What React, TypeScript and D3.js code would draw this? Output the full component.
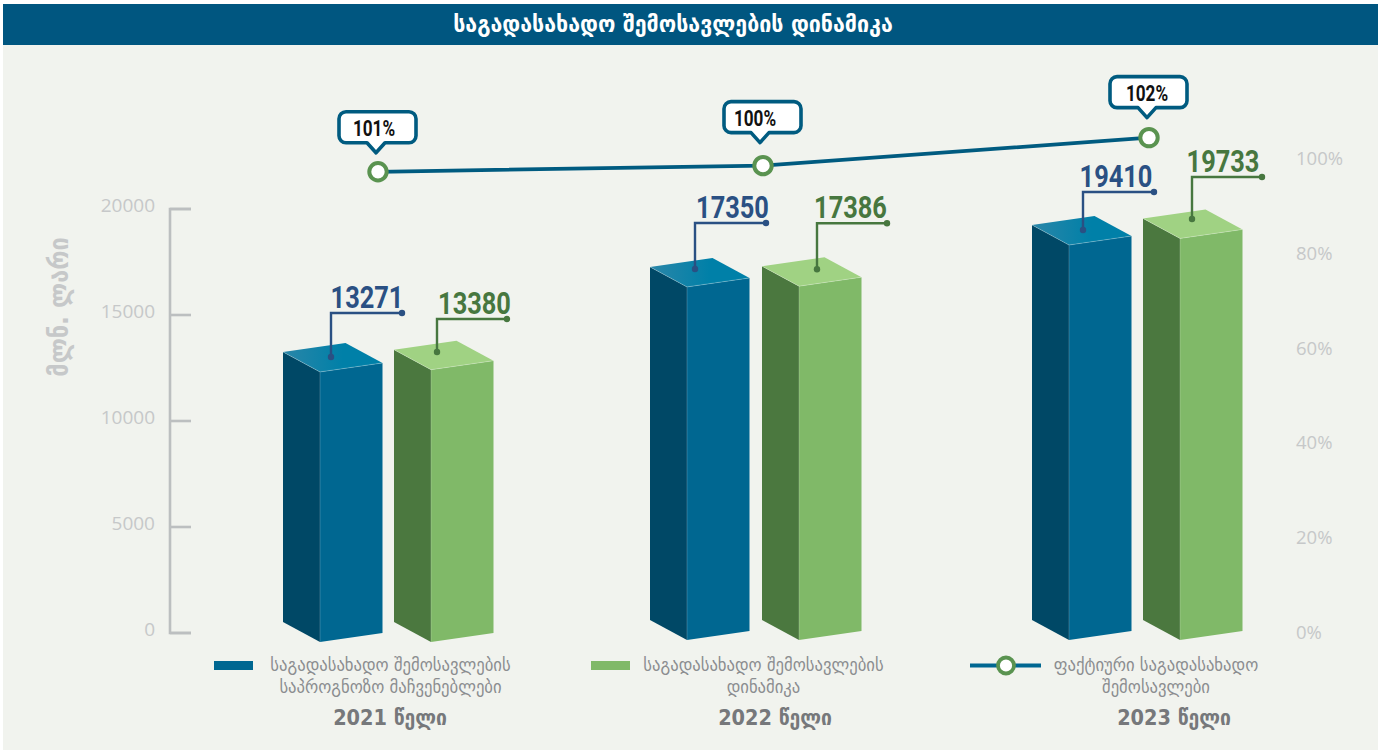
import React, { useMemo } from 'react'
import * as d3 from 'd3'

const years = ['2021', '2022', '2023']
const forecast = [13271, 17350, 19410]
const actual = [13380, 17386, 19733]
const ratioLabels = ['101%', '100%', '102%']
// where the line sits on the right axis (it doesn't follow the printed labels)
const ratioPlotted = [97.3, 98.6, 104.5]
const leftTicks = [0, 5000, 10000, 15000, 20000]
const rightTicks = [0, 20, 40, 60, 80, 100]

const title = 'საგადასახადო შემოსავლების დინამიკა'
const unitLabel = 'მლნ. ლარი'
const yearSuffix = 'წელი'
const legendForecast = ['საგადასახადო შემოსავლების', 'საპროგნოზო მაჩვენებლები']
const legendActual = ['საგადასახადო შემოსავლების', 'დინამიკა']
const legendRatio = ['ფაქტიური საგადასახადო', 'შემოსავლები']

const width = 1378
const height = 751
const geo = "'DejaVu Sans Condensed', 'DejaVu Sans', sans-serif"
const num = "Roboto, 'DejaVu Sans Condensed', sans-serif"
const tick = "'Open Sans', sans-serif"

const blue = { left: '#004866', front: '#006791', top: '#0080a8', topDark: '#2a86a8', ink: '#2a5083' }
const green = { left: '#4b783f', front: '#80b968', top: '#a0d283', topDark: '#a0d283', ink: '#47773f' }

// bars are drawn on their own scale, the 3d picture is a bit shorter than the axis
const barScale = d3.scaleLinear().domain([0, 20000]).range([0, 407])
const axisY = d3.scaleLinear().domain([0, 20000]).range([633, 209])
const pctY = d3.scaleLinear().domain([0, 100]).range([633, 159])
const blueX = d3.scaleOrdinal<string, number>().domain(years).range([283, 650, 1032])
const greenX = d3.scaleOrdinal<string, number>().domain(years).range([394, 762, 1143])
const floorY = d3.scaleOrdinal<string, number>().domain(years).range([633, 631, 631])
const lineX = d3.scaleOrdinal<string, number>().domain(years).range([378, 763, 1149])
const yearX = d3.scaleOrdinal<string, number>().domain(years).range([390, 775, 1174])

// hand placed leader lines: [dot x from bar, dot above top, elbow above top, label x from dot]
const blueLeaders = [
  [48, 6, 50, 36],
  [45, 9, 55, 37.5],
  [51, 6, 44, 33],
]
const greenLeaders = [
  [43, 8.7, 41.7, 37.5],
  [55, 8, 54, 33.5],
  [49, 10.4, 52.4, 31],
]
// speech bubbles: [top above point, tail x from point, label x from point]
const bubbles = [
  [60, -2, -4],
  [64, -3, -8],
  [61, -2, -2],
]

const poly = d3.line()

function Bar({ x, floor, value, c, id }: any) {
  const h = barScale(value)
  const leftW = 37
  const frontW = 62.5
  const skew = 9 // front face lean
  const drop = 20
  const top = floor - h
  const a: [number, number] = [x, top - 11]
  const b: [number, number] = [x + leftW, top + 9]
  const r: [number, number] = [x + leftW + frontW, top]
  const back: [number, number] = [x + frontW, top - 20]
  return (
    <g>
      <defs>
        <linearGradient id={id} x1="0" x2="1" y1="0" y2="0">
          <stop offset="0" stopColor={c.topDark} />
          <stop offset="0.6" stopColor={c.top} />
        </linearGradient>
      </defs>
      <path d={poly([a, b, [b[0], floor + skew], [a[0], floor + skew - drop]])! + 'Z'} fill={c.left} />
      <path d={poly([b, r, [r[0], floor], [b[0], floor + skew]])! + 'Z'} fill={c.front} />
      <path d={poly([a, back, r, b])! + 'Z'} fill={`url(#${id})`} />
      <path
        d={poly([a, b, r])!}
        fill="none"
        stroke="#fff"
        strokeOpacity={0.3}
        strokeWidth={0.8}
      />
      <line x1={b[0]} x2={b[0]} y1={b[1]} y2={floor + skew} stroke="#fff" strokeOpacity={0.25} strokeWidth={0.8} />
    </g>
  )
}

function Callout({ x, y, value, c, tx, top, end }: any) {
  return (
    <g>
      <path d={`M${x},${y} V${top} H${end}`} fill="none" stroke={c.ink} strokeWidth={2.4} />
      <circle cx={x} cy={y} r={3.2} fill={c.ink} />
      <circle cx={end} cy={top} r={3.2} fill={c.ink} />
      <text
        transform={`translate(${tx},${top - 5}) scale(0.82,1)`}
        textAnchor="middle"
        fontFamily={num}
        fontWeight={700}
        fontSize={31}
        fill={c.ink}
      >
        {value}
      </text>
    </g>
  )
}

export default function App() {
  const line = useMemo(
    () =>
      d3
        .line<number>()
        .x((_, i) => lineX(years[i]))
        .y((d) => pctY(d))(ratioPlotted),
    []
  )

  return (
    <svg
      width={width}
      height={height}
      viewBox={`0 0 ${width} ${height}`}
      style={{ position: 'absolute', left: 0, top: 0, display: 'block' }}
    >
      <rect width={width} height={height} fill="#fff" />
      <rect x={3} y={45} width={width - 3} height={705} fill="#f1f3ee" />
      <rect x={3} y={4} width={width - 3} height={41} fill="#005680" />
      <text x={673} y={32} textAnchor="middle" fontFamily={geo} fontWeight={700} fontSize={23.8} fill="#fff">
        {title}
      </text>

      {/* left axis */}
      <path d={`M191,${axisY(20000)} H170 V${axisY(0)} H191`} fill="none" stroke="#bcbfc0" strokeWidth={2.6} />
      {leftTicks.map((t) => (
        <g key={t}>
          <line x1={170} x2={191} y1={axisY(t)} y2={axisY(t)} stroke="#bcbfc0" strokeWidth={2.6} />
          <text x={155} y={axisY(t) + 3} textAnchor="end" fontFamily={tick} fontSize={19} fill="#c6c8c9">
            {t}
          </text>
        </g>
      ))}
      <text
        transform="translate(68,307) rotate(-90)"
        textAnchor="middle"
        fontFamily={geo}
        fontWeight={700}
        fontSize={26}
        fill="#c6c8c9"
      >
        {unitLabel}
      </text>

      {/* right axis */}
      {rightTicks.map((t) => (
        <text key={t} x={1296} y={pctY(t) + 6} fontFamily={tick} fontSize={18.5} fill="#c6c8c9">
          {t}%
        </text>
      ))}

      {/* bars */}
      {years.map((yr, i) => (
        <g key={yr}>
          <Bar id={`b${yr}`} x={blueX(yr)} floor={floorY(yr)} value={forecast[i]} c={blue} />
          <Bar id={`g${yr}`} x={greenX(yr)} floor={floorY(yr)} value={actual[i]} c={green} />
        </g>
      ))}

      {/* value callouts */}
      {years.map((yr, i) => {
        const by = floorY(yr) - barScale(forecast[i])
        const gy = floorY(yr) - barScale(actual[i])
        const [bdx, bdot, belbow, blabel] = blueLeaders[i]
        const [gdx, gdot, gelbow, glabel] = greenLeaders[i]
        const bx = blueX(yr) + bdx
        const gx = greenX(yr) + gdx
        return (
          <g key={yr}>
            <Callout x={bx} y={by - bdot} top={by - belbow} end={bx + 71} tx={bx + blabel} value={forecast[i]} c={blue} />
            <Callout x={gx} y={gy - gdot} top={gy - gelbow} end={gx + 70} tx={gx + glabel} value={actual[i]} c={green} />
          </g>
        )
      })}

      {/* ratio line */}
      <path d={line!} fill="none" stroke="#005b80" strokeWidth={3.8} />
      {years.map((yr, i) => {
        const x = lineX(yr)
        const y = pctY(ratioPlotted[i])
        const [rise, tail, labelDx] = bubbles[i]
        const bx = x - 39
        const by = y - rise
        const tipY = by + 41
        const tx = x + tail
        return (
          <g key={yr}>
            <path
              d={`M${bx + 7},${by} H${bx + 70} a7,7 0 0 1 7,7 V${by + 24} a7,7 0 0 1 -7,7 H${tx + 9} L${tx},${tipY} L${tx - 9},${by + 31} H${bx + 7} a7,7 0 0 1 -7,-7 V${by + 7} a7,7 0 0 1 7,-7 Z`}
              fill="#fff"
              stroke="#005b80"
              strokeWidth={3.6}
              strokeLinejoin="round"
            />
            <text
              transform={`translate(${x + labelDx},${by + 24}) scale(0.78,1)`}
              textAnchor="middle"
              fontFamily={num}
              fontWeight={700}
              fontSize={22}
              fill="#111"
            >
              {ratioLabels[i]}
            </text>
            <circle cx={x} cy={y} r={8.7} fill="#fff" stroke="#5a9350" strokeWidth={4} />
          </g>
        )
      })}

      {/* legend */}
      <rect x={214} y={661} width={39} height={9} fill="#006791" />
      <rect x={591} y={661} width={39} height={9} fill="#80b968" />
      <line x1={970} x2={1041} y1={665.5} y2={665.5} stroke="#006791" strokeWidth={3.8} />
      <circle cx={1006} cy={665.5} r={8} fill="#fff" stroke="#5a9350" strokeWidth={3.8} />
      {[
        { lines: legendForecast, x: 390.5 },
        { lines: legendActual, x: 763.5 },
        { lines: legendRatio, x: 1156 },
      ].map((l) =>
        l.lines.map((s, j) => (
          <text key={s + l.x} x={l.x} y={671 + j * 22} textAnchor="middle" fontFamily={geo} fontSize={18.5} fill="#8b8d90">
            {s}
          </text>
        ))
      )}
      {years.map((yr) => (
        <text key={yr} x={yearX(yr)} y={725} textAnchor="middle" fontFamily={geo} fontWeight={700} fontSize={21.5} fill="#76787b">
          {yr} {yearSuffix}
        </text>
      ))}
    </svg>
  )
}
